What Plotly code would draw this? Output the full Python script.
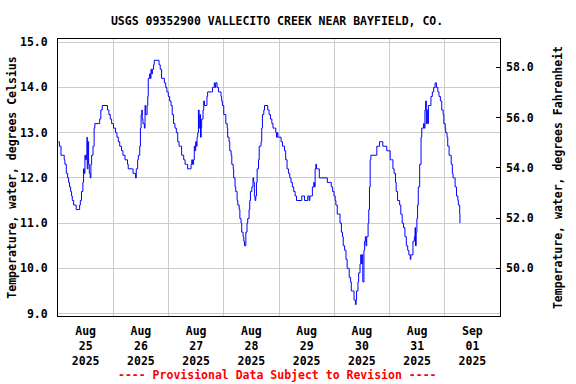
import pandas as pd
import plotly.graph_objects as go

# hours since 2025-08-25 00:00 and water temperature (deg C)
hours = [0.2, 0.6, 1.3, 2.1, 2.7, 3.0, 3.6, 4.2, 4.6, 5.0, 5.5, 5.9, 6.2, 6.8, 7.3, 7.9, 9.1, 9.4, 9.7, 10.2,
         10.8, 11.1, 11.4, 11.7, 12.0, 12.3, 12.6, 12.7, 13.0, 13.3, 13.6, 14.0, 14.3, 14.6, 15.2, 15.7, 16.0, 17.5,
         18.1, 18.6, 19.2, 21.3, 21.5, 22.1, 22.7, 23.3, 24.1, 25.0, 25.6, 26.2, 26.8, 27.6, 28.2, 29.1, 29.7, 30.2,
         30.5, 32.3, 32.6, 33.4, 33.7, 34.0, 34.6, 34.9, 35.5, 35.8, 36.1, 36.4, 36.6, 36.9, 37.5, 37.8, 38.1, 38.7,
         39.0, 39.2, 39.8, 40.1, 40.4, 40.7, 41.0, 41.5, 41.8, 43.6, 43.9, 44.4, 45.0, 45.6, 46.2, 46.8, 47.3, 47.9,
         48.5, 49.1, 49.6, 50.2, 50.8, 51.4, 52.0, 52.6, 53.2, 53.7, 54.6, 55.2, 55.8, 56.3, 57.5, 57.8, 58.1, 58.4,
         58.9, 59.2, 59.5, 59.8, 60.1, 60.4, 60.7, 61.0, 61.3, 61.6, 61.9, 62.2, 62.4, 63.0, 63.3, 63.6, 64.4, 64.7,
         65.0, 66.5, 67.1, 67.6, 67.9, 68.2, 68.5, 69.1, 69.4, 69.7, 70.3, 70.8, 71.1, 71.4, 72.0, 72.6, 72.9, 73.5,
         73.7, 74.3, 74.6, 75.2, 75.5, 76.1, 76.3, 76.9, 77.2, 77.8, 78.1, 78.7, 79.0, 79.5, 79.8, 80.4, 80.7, 81.0,
         81.3, 81.6, 82.1, 82.4, 83.0, 83.3, 83.6, 84.2, 84.7, 85.0, 85.3, 85.6, 85.9, 86.2, 86.5, 87.1, 87.4, 87.9,
         88.2, 88.5, 88.8, 89.4, 89.7, 90.8, 91.1, 91.7, 92.3, 92.9, 93.4, 94.0, 94.6, 94.9, 95.2, 95.5, 96.3, 96.9,
         97.5, 98.0, 98.4, 98.9, 99.5, 100.1, 100.7, 101.2, 101.8, 102.4, 103.0, 103.6, 105.6, 105.9, 106.8, 107.1,
         108.2, 108.5, 109.1, 109.4, 110.2, 110.5, 110.8, 111.1, 111.4, 111.7, 112.0, 112.3, 112.6, 113.2, 113.5,
         116.4, 117.0, 118.1, 118.7, 119.3, 119.9, 120.4, 120.7, 121.3, 121.9, 122.5, 123.1, 123.6, 123.9, 124.5,
         125.1, 125.6, 126.2, 126.5, 127.1, 127.4, 128.0, 128.6, 128.9, 129.2, 129.5, 129.7, 130.3, 130.6, 131.2,
         131.5, 131.8, 132.1, 132.4, 132.6, 132.9, 133.2, 133.5, 133.8, 134.1, 134.7, 135.0, 135.3, 135.6, 135.9,
         138.2, 138.5, 139.1, 139.7, 140.5, 141.1, 142.5, 142.8, 143.7, 144.3, 144.9, 145.5, 146.0, 146.6, 146.9,
         147.5, 148.1, 148.4, 148.9, 149.5, 150.1, 150.7, 151.3, 151.9, 152.4, 153.0, 153.3, 153.6, 154.2, 154.8,
         155.1, 155.3, 155.6, 155.9, 156.2, 156.5, 157.1, 157.7, 158.0, 158.6, 158.8, 159.1, 159.4, 159.7, 160.0,
         160.3, 160.6, 160.9, 161.7, 162.0, 162.6, 163.2, 163.8, 164.1, 164.4, 165.0, 165.5, 166.1, 166.7, 167.3,
         167.6, 168.2, 168.4, 169.0, 169.3, 169.9, 170.5, 170.8, 171.3, 171.6, 172.2, 172.5, 173.1, 173.7, 173.9,
         174.5, 174.6]
temps = [12.8, 12.7, 12.5, 12.5, 12.4, 12.3, 12.1, 12.0, 11.9, 11.8, 11.7, 11.6, 11.5, 11.4, 11.4, 11.3, 11.3, 11.4, 11.5, 11.7,
         11.9, 12.2, 12.1, 12.5, 12.4, 12.5, 12.9, 12.2, 12.8, 12.3, 12.1, 12.0, 12.3, 12.5, 12.7, 13.1, 13.2, 13.2,
         13.3, 13.5, 13.6, 13.6, 13.5, 13.4, 13.3, 13.2, 13.1, 13.0, 12.9, 12.8, 12.7, 12.6, 12.5, 12.4, 12.4, 12.3,
         12.2, 12.2, 12.1, 12.1, 12.0, 12.2, 12.4, 12.5, 12.7, 13.1, 13.4, 13.5, 13.3, 13.2, 13.1, 13.6, 13.4, 13.6,
         13.8, 14.2, 14.3, 14.2, 14.4, 14.3, 14.4, 14.5, 14.6, 14.6, 14.5, 14.4, 14.2, 14.2, 14.1, 14.0, 13.9, 13.8,
         13.7, 13.6, 13.4, 13.2, 13.1, 13.0, 12.8, 12.7, 12.7, 12.5, 12.4, 12.3, 12.3, 12.2, 12.2, 12.3, 12.4, 12.3,
         12.4, 12.7, 12.6, 12.8, 12.7, 12.9, 13.0, 13.5, 13.1, 13.4, 12.9, 13.1, 13.3, 13.5, 13.7, 13.6, 13.6, 13.8,
         13.9, 13.9, 14.0, 14.0, 14.1, 14.0, 14.1, 14.0, 14.0, 13.9, 13.9, 13.8, 13.7, 13.6, 13.4, 13.4, 13.2, 13.1,
         12.9, 12.8, 12.6, 12.5, 12.3, 12.2, 12.0, 11.8, 11.7, 11.5, 11.4, 11.3, 11.1, 11.0, 10.8, 10.7, 10.6, 10.5,
         10.5, 10.8, 11.0, 11.1, 11.3, 11.5, 11.7, 11.8, 12.0, 11.9, 11.6, 11.5, 11.6, 11.9, 12.2, 12.4, 12.7, 12.7,
         12.8, 13.1, 13.4, 13.5, 13.6, 13.6, 13.5, 13.4, 13.3, 13.2, 13.1, 13.1, 13.0, 12.9, 13.0, 12.9, 12.9, 12.8,
         12.7, 12.7, 12.6, 12.4, 12.2, 12.1, 12.0, 11.9, 11.8, 11.7, 11.6, 11.5, 11.5, 11.6, 11.6, 11.5,
         11.5, 11.6, 11.5, 11.6, 11.6, 11.8, 11.8, 11.9, 11.8, 12.2, 12.3, 12.2, 12.2, 12.2, 12.0,
         12.0, 11.9, 11.9, 11.8, 11.7, 11.6, 11.5, 11.4, 11.2, 11.2, 11.0, 10.8, 10.7, 10.5, 10.4,
         10.2, 10.0, 10.0, 9.8, 9.7, 9.5, 9.5, 9.3, 9.3, 9.2, 9.3, 9.5, 9.7, 9.9, 10.1,
         10.3, 10.1, 10.3, 9.7, 9.7, 10.4, 10.6, 10.7, 10.5, 10.7, 11.0, 11.3, 11.8, 12.4, 12.5,
         12.5, 12.7, 12.7, 12.8, 12.8, 12.7, 12.7, 12.6, 12.6, 12.4, 12.4, 12.2, 12.1, 11.9, 11.7,
         11.5, 11.5, 11.4, 11.2, 11.0, 10.9, 10.7, 10.5, 10.4, 10.3, 10.2, 10.3, 10.3, 10.6, 10.7,
         10.9, 10.5, 10.8, 11.1, 11.4, 11.8, 12.3, 12.9, 13.1, 13.1, 13.2, 13.1, 13.5, 13.7, 13.2,
         13.5, 13.2, 13.6, 13.6, 13.8, 13.9, 14.0, 14.1, 14.1, 14.0, 13.9, 13.8, 13.7, 13.5, 13.4,
         13.2, 13.1, 13.0, 12.9, 12.7, 12.5, 12.5, 12.3, 12.1, 12.0, 12.0, 11.8, 11.6, 11.5, 11.4,
         11.2, 11.0]

tick_dates = ["2025-08-25", "2025-08-26", "2025-08-27", "2025-08-28",
              "2025-08-29", "2025-08-30", "2025-08-31", "2025-09-01"]
tick_text = ["Aug<br>25<br>2025", "Aug<br>26<br>2025", "Aug<br>27<br>2025", "Aug<br>28<br>2025",
             "Aug<br>29<br>2025", "Aug<br>30<br>2025", "Aug<br>31<br>2025", "Sep<br>01<br>2025"]
c_ticks = [9.0, 10.0, 11.0, 12.0, 13.0, 14.0, 15.0]
f_ticks = [50.0, 52.0, 54.0, 56.0, 58.0]

base = pd.Timestamp("2025-08-25 00:00")
times = [base + pd.Timedelta(hours=h) for h in hours]
tick_pos = [pd.Timestamp(d) + pd.Timedelta(hours=12) for d in tick_dates]

c_range = [8.947, 15.07]
f_range = [c * 1.8 + 32 for c in c_range]

FONT = "DejaVu Sans Mono"
fsz = 11.5

fig = go.Figure()
fig.add_trace(go.Scatter(x=times, y=temps, mode="lines", line=dict(color="#0000FF", width=1, shape="hv"),
                         showlegend=False, hoverinfo="x+y"))
# invisible trace to activate the right axis
fig.add_trace(go.Scatter(x=[times[0]], y=[temps[0] * 1.8 + 32], yaxis="y2", mode="lines",
                         line=dict(width=0), showlegend=False, hoverinfo="skip"))

fig.update_layout(
    width=576, height=384,
    margin=dict(l=58, r=76, t=39, b=68, autoexpand=False),
    paper_bgcolor="white", plot_bgcolor="white",
    font=dict(family=FONT, size=fsz, color="black", weight="bold"),
    title=dict(text="USGS 09352900 VALLECITO CREEK NEAR BAYFIELD, CO.", x=0.481, xanchor="center",
               y=1 - 20.5 / 384, yanchor="middle", font=dict(family=FONT, size=fsz, weight="bold")),
    xaxis=dict(range=["2025-08-25", "2025-09-02"], tickmode="array", tickvals=tick_pos, ticktext=tick_text,
               showgrid=False, ticks="", showline=True, linecolor="black", linewidth=1, mirror=True,
               ticklabelstandoff=4, automargin=False,
               minor=dict(showgrid=True, gridcolor="#CCCCCC", gridwidth=1, dtick=86400000,
                          tick0="2025-08-25", ticks=""),
               zeroline=False),
    yaxis=dict(range=c_range, tickmode="array", tickvals=c_ticks, tickformat=".1f",
               showgrid=True, gridcolor="#CCCCCC", gridwidth=1, ticks="", showline=True,
               linecolor="black", linewidth=1, mirror=True, zeroline=False, ticklabelstandoff=7,
               automargin=False,
               title=dict(text="Temperature, water, degrees Celsius", standoff=0,
                          font=dict(family=FONT, size=fsz, weight="bold"))),
    yaxis2=dict(range=f_range, overlaying="y", side="right", tickmode="array", tickvals=f_ticks,
                tickformat=".1f", showgrid=False, ticks="inside", ticklen=4, tickcolor="black",
                zeroline=False, ticklabelstandoff=5, automargin=False,
                title=dict(text="Temperature, water, degrees Fahrenheit", standoff=21,
                           font=dict(family=FONT, size=fsz, weight="bold"))),
    annotations=[dict(text="---- Provisional Data Subject to Revision ----", xref="paper", yref="paper",
                      x=0.496, y=(316 - 375) / 277, xanchor="center", yanchor="middle", showarrow=False,
                      font=dict(family=FONT, size=fsz, color="#FF0000", weight="bold"))],
)

fig.write_html("out.html", config={"displayModeBar": False},
               post_script="document.body.style.margin='0px';document.body.style.overflow='hidden';")
